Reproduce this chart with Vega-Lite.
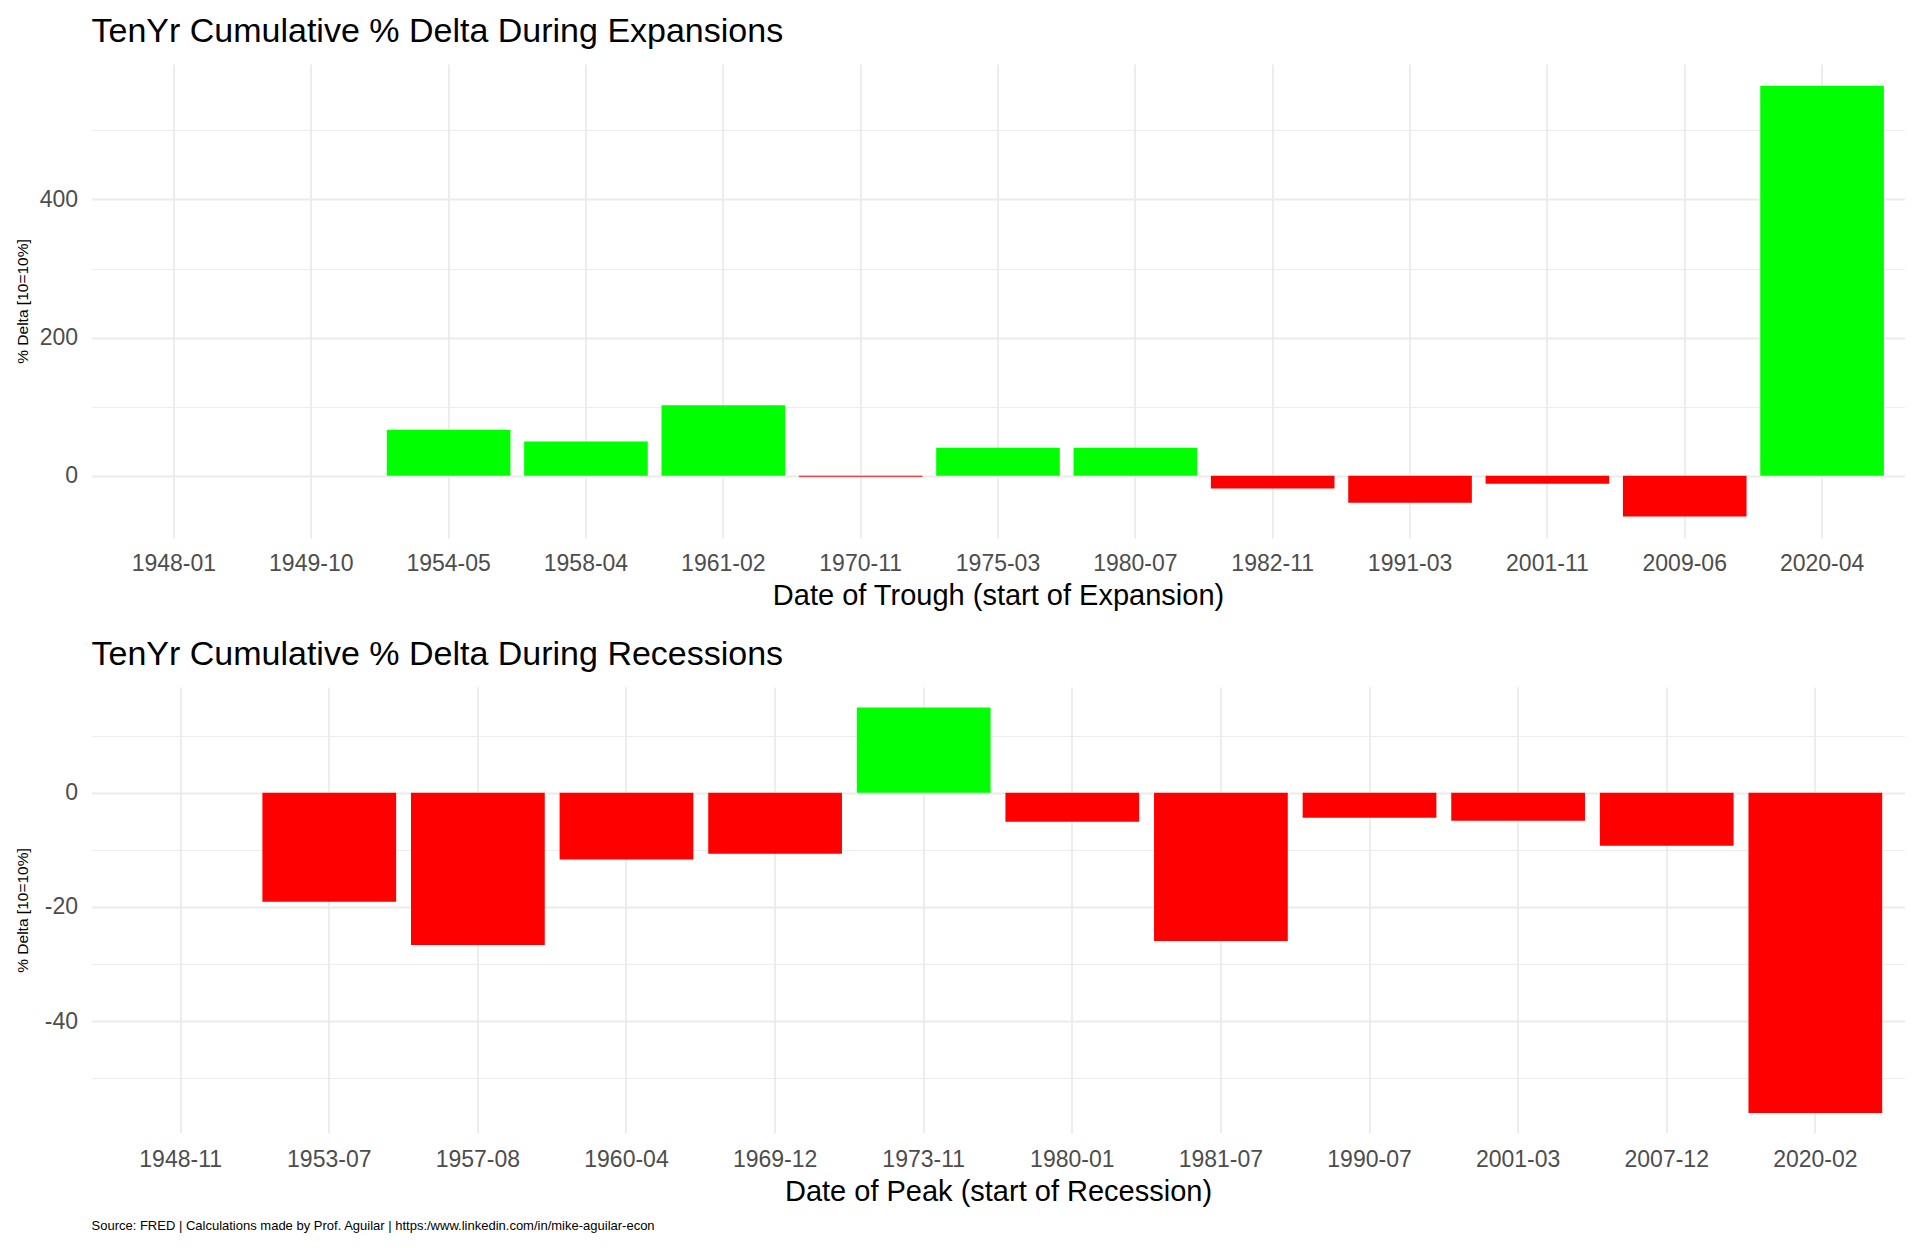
{
  "$schema": "https://vega.github.io/schema/vega-lite/v6.json",
  "background": "white",
  "padding": {"left": 15.5, "top": 15, "right": 15, "bottom": 12},
  "spacing": 28,
  "config": {
    "view": {"stroke": null},
    "font": "Liberation Sans",
    "axis": {
      "gridColor": "#EBEBEB",
      "domain": false,
      "ticks": false,
      "tickSize": 0,
      "labelColor": "#4D4D4D",
      "labelFontSize": 23,
      "titleColor": "#000000",
      "titleFontWeight": "normal"
    }
  },
  "datasets": {
    "expansions": [
      {"date": "1948-01", "delta": null},
      {"date": "1949-10", "delta": null},
      {"date": "1954-05", "delta": 66.5},
      {"date": "1958-04", "delta": 49.5},
      {"date": "1961-02", "delta": 102},
      {"date": "1970-11", "delta": -1.5},
      {"date": "1975-03", "delta": 40.5},
      {"date": "1980-07", "delta": 40.5},
      {"date": "1982-11", "delta": -18.5},
      {"date": "1991-03", "delta": -39},
      {"date": "2001-11", "delta": -11.5},
      {"date": "2009-06", "delta": -59},
      {"date": "2020-04", "delta": 564.6}
    ],
    "recessions": [
      {"date": "1948-11", "delta": null},
      {"date": "1953-07", "delta": -19.1},
      {"date": "1957-08", "delta": -26.7},
      {"date": "1960-04", "delta": -11.7},
      {"date": "1969-12", "delta": -10.7},
      {"date": "1973-11", "delta": 14.9},
      {"date": "1980-01", "delta": -5.1},
      {"date": "1981-07", "delta": -26.0},
      {"date": "1990-07", "delta": -4.4},
      {"date": "2001-03", "delta": -4.9},
      {"date": "2007-12", "delta": -9.3},
      {"date": "2020-02", "delta": -56.1}
    ]
  },
  "title": {
    "text": "Source: FRED | Calculations made by Prof. Aguilar | https:/www.linkedin.com/in/mike-aguilar-econ",
    "orient": "bottom",
    "anchor": "start",
    "frame": "group",
    "dx": 0,
    "offset": 13,
    "baseline": "top",
    "fontSize": 13,
    "fontWeight": "normal",
    "color": "#000000"
  },
  "vconcat": [
    {
      "data": {"name": "expansions"},
      "width": 1813,
      "height": 474,
      "title": {
        "text": "TenYr Cumulative % Delta During Expansions",
        "anchor": "start",
        "frame": "group",
        "baseline": "alphabetic",
        "offset": -12,
        "fontSize": 34,
        "fontWeight": "normal",
        "color": "#000000"
      },
      "layer": [
        {
          "mark": {"type": "bar", "opacity": 0},
          "encoding": {
            "x": {
              "field": "date", "type": "nominal", "sort": null,
              "scale": {"domain": ["1948-01","1949-10","1954-05","1958-04","1961-02","1970-11","1975-03","1980-07","1982-11","1991-03","2001-11","2009-06","2020-04"], "paddingInner": 0.1, "paddingOuter": 0.15},
              "axis": {"labelAngle": 0, "labelPadding": 14, "grid": true, "bandPosition": 0.5, "gridWidth": 1.8, "title": "Date of Trough (start of Expansion)", "titleFontSize": 29, "titlePadding": 6}
            },
            "y": {
              "field": "delta", "type": "quantitative",
              "scale": {"domain": [-90, 596], "nice": false, "zero": false},
              "axis": {"orient": "right", "values": [100, 300, 500], "grid": true, "labels": false, "title": null, "gridWidth": 0.9, "minExtent": 0, "maxExtent": 0}
            }
          }
        },
        {
          "mark": {"type": "bar"},
          "encoding": {
            "x": {"field": "date", "type": "nominal", "sort": null},
            "y": {
              "field": "delta", "type": "quantitative",
              "axis": {"orient": "left", "values": [0, 200, 400], "grid": true, "gridWidth": 1.8, "labelPadding": 14, "labelExpr": "'' + datum.value", "minExtent": 52, "maxExtent": 52, "title": "% Delta [10=10%]", "titleFontSize": 15.5, "titlePadding": 9}
            },
            "color": {"condition": {"test": "datum.delta < 0", "value": "#FF0000"}, "value": "#00FF00"}
          }
        }
      ],
      "resolve": {"axis": {"y": "independent"}}
    },
    {
      "data": {"name": "recessions"},
      "width": 1813,
      "height": 446,
      "title": {
        "text": "TenYr Cumulative % Delta During Recessions",
        "anchor": "start",
        "frame": "group",
        "baseline": "alphabetic",
        "offset": -12,
        "fontSize": 34,
        "fontWeight": "normal",
        "color": "#000000"
      },
      "layer": [
        {
          "mark": {"type": "bar", "opacity": 0},
          "encoding": {
            "x": {
              "field": "date", "type": "nominal", "sort": null,
              "scale": {"domain": ["1948-11","1953-07","1957-08","1960-04","1969-12","1973-11","1980-01","1981-07","1990-07","2001-03","2007-12","2020-02"], "paddingInner": 0.1, "paddingOuter": 0.15},
              "axis": {"labelAngle": 0, "labelPadding": 15, "grid": true, "bandPosition": 0.5, "gridWidth": 1.8, "title": "Date of Peak (start of Recession)", "titleFontSize": 29, "titlePadding": 6.5}
            },
            "y": {
              "field": "delta", "type": "quantitative",
              "scale": {"domain": [-59.6, 18.5], "nice": false, "zero": false},
              "axis": {"orient": "right", "values": [-50, -30, -10, 10], "grid": true, "labels": false, "title": null, "gridWidth": 0.9, "minExtent": 0, "maxExtent": 0}
            }
          }
        },
        {
          "mark": {"type": "bar"},
          "encoding": {
            "x": {"field": "date", "type": "nominal", "sort": null},
            "y": {
              "field": "delta", "type": "quantitative",
              "axis": {"orient": "left", "values": [-40, -20, 0], "grid": true, "gridWidth": 1.8, "labelPadding": 14, "labelExpr": "'' + datum.value", "minExtent": 52, "maxExtent": 52, "title": "% Delta [10=10%]", "titleFontSize": 15.5, "titlePadding": 9}
            },
            "color": {"condition": {"test": "datum.delta < 0", "value": "#FF0000"}, "value": "#00FF00"}
          }
        }
      ],
      "resolve": {"axis": {"y": "independent"}}
    }
  ]
}
